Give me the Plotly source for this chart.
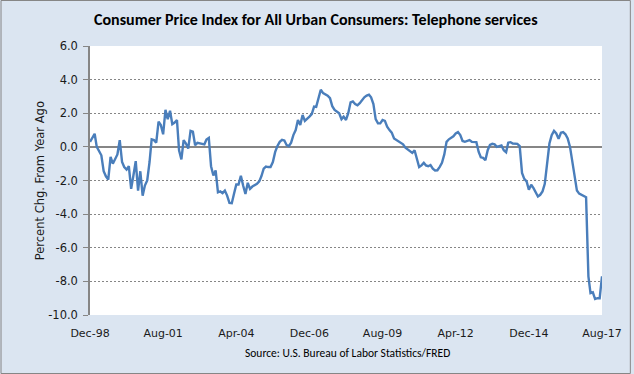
import pandas as pd
import plotly.graph_objects as go

# Monthly dates Dec-1998 .. Aug-2017
start_month = "1998-12-01"
end_month = "2017-08-01"
months = pd.date_range(start_month, end_month, freq="MS")

# Percent change from year ago
pct_chg = [
    0.3, 0.55, 0.78, 0.0, -0.3, -0.5, -1.45, -1.75, -1.95, -0.6,
    -1.0, -0.75, -0.45, 0.4, -0.9, -1.2, -1.35, -1.15, -2.5, -1.7,
    -0.85, -2.6, -1.45, -2.9, -2.3, -2.0, -0.9, 0.45, 0.4, 0.25,
    1.5, 1.3, 0.75, 2.2, 1.65, 2.15, 1.35, 1.45, 1.6, -0.2,
    -0.75, 0.4, 0.2, -0.1, 0.95, 0.9, 0.1, 0.24, 0.2, 0.18,
    0.15, 0.44, 0.53, -1.15, -1.7, -1.4, -2.7, -2.65, -2.75, -2.6,
    -2.9, -3.33, -3.35, -2.8, -2.24, -2.24, -1.72, -2.3, -2.8, -2.14,
    -2.5, -2.36, -2.3, -2.2, -2.05, -1.75, -1.3, -1.17, -1.2, -1.2,
    -0.9, -0.3, 0.05, 0.3, 0.42, 0.38, 0.1, 0.04, 0.25, 0.7,
    1.0, 1.6, 1.3, 1.9, 1.55, 1.65, 1.8, 1.95, 2.4, 2.38,
    2.9, 3.4, 3.2, 3.12, 3.05, 2.9, 2.42, 2.2, 2.1, 2.0,
    1.65, 1.8, 1.6, 2.0, 2.65, 2.7, 2.55, 2.47, 2.6, 2.8,
    2.95, 3.05, 3.1, 2.95, 2.55, 1.65, 1.4, 1.4, 1.6, 1.55,
    1.2, 1.0, 0.85, 0.5, 0.4, 0.34, 0.22, 0.15, -0.05, -0.15,
    -0.25, -0.36, -0.2, -0.75, -1.2, -1.1, -0.95, -1.1, -1.15, -1.08,
    -1.3, -1.4, -1.39, -1.19, -0.95, -0.45, 0.3, 0.45, 0.55, 0.63,
    0.8, 0.88, 0.7, 0.35, 0.3, 0.33, 0.4, 0.3, 0.3, 0.28,
    -0.3, -0.62, -0.65, -0.79, -0.2, 0.12, 0.18, 0.15, 0.0, 0.05,
    0.08, -0.2, -0.32, 0.25, 0.28, 0.2, 0.18, 0.18, 0.05, -1.55,
    -1.9, -2.05, -2.55, -2.25, -2.45, -2.65, -2.95, -2.85, -2.65, -2.2,
    -1.1, 0.2, 0.7, 0.95, 0.8, 0.48, 0.84, 0.88, 0.75, 0.5,
    0.0, -0.9, -1.9, -2.6, -2.78, -2.85, -2.9, -3.0, -7.7, -8.7,
    -8.65, -9.05, -9.0, -9.0, -7.7,
]

tick_dates = ["1998-12-01", "2001-08-01", "2004-04-01", "2006-12-01",
              "2009-08-01", "2012-04-01", "2014-12-01", "2017-08-01"]
tick_labels = ["Dec-98", "Aug-01", "Apr-04", "Dec-06",
               "Aug-09", "Apr-12", "Dec-14", "Aug-17"]

y_ticks = [-10, -8, -6, -4, -2, 0, 2, 4, 6]
y_tick_labels = ["-10.0", "-8.0", "-6.0", "-4.0", "-2.0", "0.0", "2.0", "4.0", "6.0"]

title_text = "Consumer Price Index for All Urban Consumers: Telephone services"
y_title = "Percent Chg. From Year Ago"
source_text = "Source: U.S. Bureau of Labor Statistics/FRED"

W, H = 634, 374
L, R, T, B = 90, 29, 46, 59
pw, ph = W - L - R, H - T - B

TITLE_FONT = "Calibri, Carlito, Lato, sans-serif"
AXIS_FONT = "Tahoma, DejaVu Sans, sans-serif"

fig = go.Figure()
fig.add_trace(go.Scatter(
    x=months, y=pct_chg, mode="lines",
    line=dict(color="#4A7EBB", width=2.4),
    showlegend=False,
))

def px_x(p):
    return (p - L) / pw

def px_y(p):
    return (H - B - p) / ph

fig.update_layout(
    width=W, height=H,
    margin=dict(l=L, r=R, t=T, b=B),
    paper_bgcolor="#DBE5F1",
    plot_bgcolor="#FFFFFF",
    font=dict(family=AXIS_FONT, size=11, color="#1a1a1a"),
    xaxis=dict(
        range=[start_month, end_month],
        tickvals=tick_dates, ticktext=tick_labels,
        showgrid=False, showline=False, zeroline=False,
        ticks="", tickfont=dict(size=11),
        ticklabelstandoff=10,
    ),
    yaxis=dict(
        range=[-10, 6], tickvals=y_ticks, ticktext=y_tick_labels,
        showgrid=True, gridcolor="#868686", griddash="2px,2px", gridwidth=1,
        zeroline=True, zerolinecolor="#868686", zerolinewidth=1.5,
        showline=True, linecolor="#868686", linewidth=1.5,
        ticks="outside", ticklen=5, tickcolor="#868686",
        tickfont=dict(size=11.5), ticklabelstandoff=3,
    ),
    shapes=[
        dict(type="rect", xref="paper", yref="paper",
             x0=px_x(0.5), x1=px_x(W - 0.5), y0=px_y(H - 0.5), y1=px_y(0.5),
             line=dict(color="#868686", width=1), layer="below"),
    ],
    annotations=[
        dict(text="<b>" + title_text + "</b>", xref="paper", yref="paper",
             x=px_x(317), y=px_y(19), xanchor="center", yanchor="middle",
             showarrow=False, font=dict(size=16, family=TITLE_FONT, color="#000000")),
        dict(text=y_title, xref="paper", yref="paper", textangle=-90,
             x=px_x(40), y=px_y(181), xanchor="center", yanchor="middle",
             showarrow=False, font=dict(size=11.5, family=AXIS_FONT, color="#1a1a1a")),
        dict(text=source_text, xref="paper", yref="paper",
             x=px_x(349), y=px_y(353), xanchor="center", yanchor="middle",
             showarrow=False, font=dict(size=11.5, family=TITLE_FONT, color="#000000")),
    ],
)

fig.write_html("out.html", config={"displayModeBar": False},
               post_script="document.body.style.margin='0';")
